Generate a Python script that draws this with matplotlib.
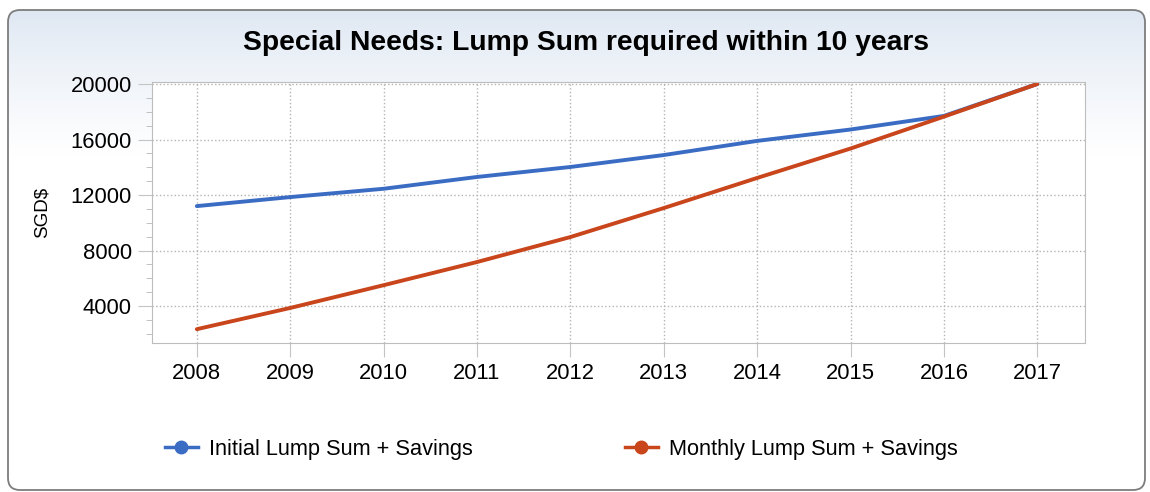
import matplotlib.pyplot as plt
import numpy as np
from matplotlib.patches import FancyBboxPatch
from matplotlib.lines import Line2D

plt.rcParams['font.family'] = ['Liberation Sans', 'DejaVu Sans']

years = [2008, 2009, 2010, 2011, 2012, 2013, 2014, 2015, 2016, 2017]
initial = [11200, 11850, 12450, 13300, 14020, 14880, 15900, 16720, 17700, 20000]
monthly = [2330, 3860, 5500, 7170, 8970, 11060, 13230, 15350, 17650, 20000]
yticks = [4000, 8000, 12000, 16000, 20000]

blue = '#3b6cc4'
orange = '#c9451b'

fig = plt.figure(figsize=(11.5, 4.92), dpi=100)

# panel background: rounded box with a soft gradient at the top
bg = fig.add_axes([0, 0, 1, 1])
bg.set_xlim(0, 1150)
bg.set_ylim(492, 0)
bg.axis('off')
grad = np.linspace(0, 1, 256)
grad = np.clip(grad / 0.3, 0, 1) ** 0.8
c_top = np.array([0.87, 0.905, 0.95])
c_bot = np.array([1.0, 1.0, 1.0])
img = c_top + (c_bot - c_top) * grad[:, None, None]
img = np.repeat(img, 2, axis=1)
box = FancyBboxPatch((8, 10), 1137, 480, boxstyle='round,pad=0,rounding_size=12',
                     facecolor='none', edgecolor='#7d7d7d', linewidth=1.3)
bg.add_patch(box)
im = bg.imshow(img, extent=[8, 1145, 490, 10], aspect='auto', zorder=0)
im.set_clip_path(box)

ax = fig.add_axes([152 / 1150, 1 - 343 / 492, (1085 - 152) / 1150, (343 - 82) / 492])
ax.plot(years, initial, color=blue, linewidth=2.8, solid_capstyle='round')
ax.plot(years, monthly, color=orange, linewidth=2.8, solid_capstyle='round')

ax.set_xlim(2007.52, 2017.51)
ax.set_ylim(1334, 20144)
ax.set_xticks(years)
ax.set_yticks(yticks)
ax.set_yticks(np.arange(2000, 20001, 1000), minor=True)
ax.grid(True, which='major', linestyle=':', color='#b4b4b4', linewidth=1)
for s in ax.spines.values():
    s.set_color('#bdbdbd')
ax.tick_params(axis='both', which='major', length=10, color='#c4c4c4', labelsize=15.8, pad=4.5)
ax.tick_params(axis='y', which='minor', length=4, color='#b8b8b8')
ax.tick_params(axis='x', which='minor', length=0)

fig.text(42 / 1150, 1 - 212 / 492, 'SGD$', rotation=90, ha='center', va='center', fontsize=13.5)
fig.text(586 / 1150, 1 - 43 / 492, 'Special Needs: Lump Sum required within 10 years',
         ha='center', va='center', fontsize=20.3, fontweight='bold')

handles = [Line2D([], [], color=blue, linewidth=2.5, marker='o', markersize=9),
           Line2D([], [], color=orange, linewidth=2.5, marker='o', markersize=9)]
fig.legend(handles, ['Initial Lump Sum + Savings', 'Monthly Lump Sum + Savings'],
           loc='center left', bbox_to_anchor=(165 / 1150, 1 - 449 / 492), ncol=2,
           frameon=False, fontsize=15.7, handlelength=1.5, handletextpad=0.5,
           columnspacing=7.0, borderpad=0, borderaxespad=0)

fig.savefig('out.png', dpi=100)
